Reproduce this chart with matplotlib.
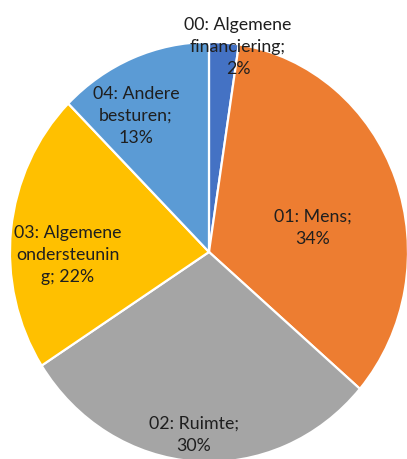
import matplotlib
matplotlib.use("Agg")
import matplotlib.pyplot as plt

# data
categories = ["00: Algemene\nfinanciering;", "01: Mens;", "02: Ruimte;",
              "03: Algemene\nondersteunin\ng;", "04: Andere\nbesturen;"]
values = [2.4, 33.9, 29.6, 21.6, 12.5]
pct_labels = ["2%", "34%", "30%", "22%", "13%"]
colors = ["#4472C4", "#ED7D31", "#A5A5A5", "#FFC000", "#5B9BD5"]
# does the percentage go on its own line?
pct_newline = [True, True, True, False, True]

# label centres (axes units of the stretched pie)
label_pos = [(0.146, 0.981), (0.523, 0.119), (-0.075, -0.867),
             (-0.709, -0.010), (-0.367, 0.652)]

plt.rcParams['font.family'] = ['Lato', 'DejaVu Sans']

fig = plt.figure(figsize=(4.07, 4.60), dpi=100)
ax = fig.add_axes([0, 0, 1, 1])

wedges, _ = ax.pie(values, colors=colors, startangle=90, counterclock=False,
                   radius=1.0, wedgeprops=dict(edgecolor="white", linewidth=1.6))

for cat, pct, nl, (x, y) in zip(categories, pct_labels, pct_newline, label_pos):
    txt = cat + ("\n" if nl else " ") + pct
    ax.text(x, y, txt, ha="center", va="center", fontsize=12.8,
            color="#1f1f1f", linespacing=1.45)

# the original picture is a bit squashed horizontally
ax.set_aspect("auto")
ax.set_xlim(-1.050, 0.995)
ax.set_ylim(-0.986, 1.205)
ax.axis("off")

fig.savefig("out.png", dpi=100)
